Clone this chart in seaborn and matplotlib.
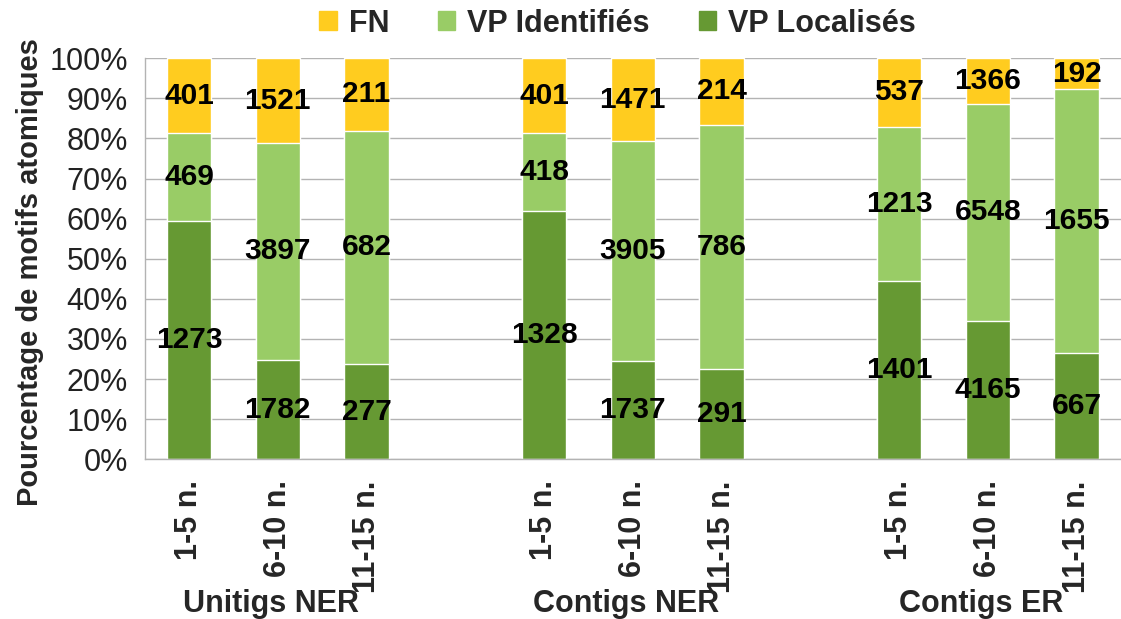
import numpy as np
import pandas as pd
import seaborn as sns
import matplotlib.pyplot as plt
from matplotlib.patches import Patch
from matplotlib.transforms import blended_transform_factory

groups = ['Unitigs NER', 'Contigs NER', 'Contigs ER']
sizes = ['1-5 n.', '6-10 n.', '11-15 n.']
vp_localises = [1273, 1782, 277, 1328, 1737, 291, 1401, 4165, 667]
vp_identifies = [469, 3897, 682, 418, 3905, 786, 1213, 6548, 1655]
fn = [401, 1521, 211, 401, 1471, 214, 537, 1366, 192]

series = ['FN', 'VP Identifiés', 'VP Localisés']
colors = {'FN': '#ffcc1f', 'VP Identifiés': '#99cc66', 'VP Localisés': '#669933'}

# build table, one row per bar
rows = []
k = 0
for g in groups:
    for s in sizes:
        total = vp_localises[k] + vp_identifies[k] + fn[k]
        rows.append(dict(
            slot=f'{g}|{s}', group=g, size=s,
            loc=vp_localises[k], ide=vp_identifies[k], fn=fn[k],
            p_loc=100 * vp_localises[k] / total,
            p_ide=100 * (vp_localises[k] + vp_identifies[k]) / total,
            p_all=100.0,
        ))
        k += 1
df = pd.DataFrame(rows)

# empty slots between groups
order = []
for i, g in enumerate(groups):
    order += [f'{g}|{s}' for s in sizes]
    if i < len(groups) - 1:
        order.append(f'gap{i}')

sns.set_style('white')
plt.rcParams['font.family'] = ['Liberation Sans', 'DejaVu Sans']

fig = plt.figure(figsize=(11.21, 6.19), dpi=100)
ax = fig.add_axes([0.129, 0.258, 0.871, 0.648])

# stacked by overlaying cumulative heights
for col, name in [('p_all', 'FN'), ('p_ide', 'VP Identifiés'), ('p_loc', 'VP Localisés')]:
    sns.barplot(
        data=df, x='slot', y=col, order=order,
        color=colors[name], saturation=1, width=0.5,
        errorbar=None, ax=ax, zorder=2,
    )

# value labels in the middle of each segment
for _, r in df.iterrows():
    xi = order.index(r['slot'])
    for lo, hi, v in [(0, r['p_loc'], r['loc']), (r['p_loc'], r['p_ide'], r['ide']), (r['p_ide'], 100, r['fn'])]:
        ax.text(xi, (lo + hi) / 2, f'{v}', ha='center', va='center',
                fontsize=21.5, fontweight='bold', color='black', zorder=5)

grey = '#b3b3b3'
ax.set_ylim(0, 100)
ax.set_xlim(-0.5, len(order) - 0.5)
ax.set_yticks(np.arange(0, 101, 10))
ax.set_yticklabels([f'{v}%' for v in range(0, 101, 10)], fontsize=22, color='#222222')
ax.yaxis.grid(True, color=grey, linewidth=1)
ax.set_axisbelow(True)
ax.tick_params(axis='y', length=9, color=grey, width=1, pad=3)

ax.set_xticks(np.arange(-0.5, len(order), 1))
ax.set_xticklabels([])
ax.tick_params(axis='x', which='major', length=7, color=grey, width=1)
bar_pos = [order.index(s) for s in df['slot']]
ax.set_xticks(bar_pos, minor=True)
ax.set_xticklabels(df['size'], minor=True, rotation=90, fontsize=22, fontweight='bold')
ax.tick_params(axis='x', which='minor', length=0, pad=15)

ax.set_xlabel('')
ax.set_ylabel('')
for side in ['top', 'right']:
    ax.spines[side].set_visible(False)
for side in ['left', 'bottom']:
    ax.spines[side].set_color(grey)
    ax.spines[side].set_linewidth(1)

# group labels under each group
tr = blended_transform_factory(ax.transData, fig.transFigure)
for g in groups:
    xi = order.index(f'{g}|{sizes[1]}')
    ax.text(xi - 0.08, 0.024, g, transform=tr, ha='center', va='center',
            fontsize=22, fontweight='bold')

fig.text(0.027, 0.56, 'Pourcentage de motifs atomiques', rotation=90,
         ha='center', va='center', fontsize=21, fontweight='bold')

handles = [Patch(color=colors[s], label=s) for s in series]
fig.legend(handles=handles, loc='center', bbox_to_anchor=(0.551, 0.962), ncol=3,
           frameon=False, handlelength=0.56, handleheight=0.56, handletextpad=0.4,
           columnspacing=1.6, prop=dict(size=22, weight='bold'))

fig.savefig('out.png', dpi=100)
